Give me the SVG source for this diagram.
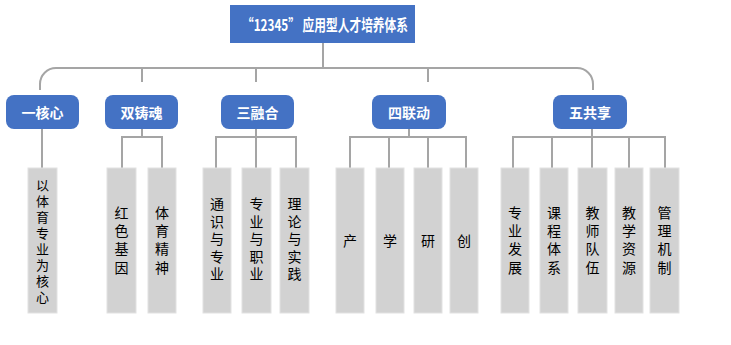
<svg xmlns="http://www.w3.org/2000/svg" width="731" height="345" viewBox="0 0 731 345">
<style>
.ln{fill:none;stroke:#a5a5a5;stroke-width:2}
.blue{fill:#4472c4}
.leaf{fill:#d2d2d2;stroke:#e2e2e2;stroke-width:1}
.t1{font-family:"Noto Sans CJK SC","Noto Sans",sans-serif;font-size:14px;font-weight:bold;fill:#ffffff;text-anchor:middle;dominant-baseline:central}
.tt{font-family:"Noto Sans CJK SC","Noto Sans",sans-serif;font-size:16px;font-weight:bold;fill:#ffffff;dominant-baseline:central}
.lt{font-family:"Noto Sans CJK SC",sans-serif;font-size:14px;fill:#000000;text-anchor:middle;writing-mode:vertical-rl}
.s4{letter-spacing:4.3px}
.s5{letter-spacing:3.5px}
.s8{font-size:13px;letter-spacing:3px}
.ch{font-family:"Noto Sans CJK SC",sans-serif;font-size:14px;fill:#000000;text-anchor:middle;dominant-baseline:central}
</style>
<rect width="731" height="345" fill="#ffffff"/>
<g id="connectors">
<path class="ln" d="M323,43 V68"/>
<path class="ln" d="M40,90 V84 A16,16 0 0 1 56,68 H577 A16,16 0 0 1 593,84 V90"/>
<path class="ln" d="M142,68 V82 M256,68 V82 M428,68 V82"/>
<path class="ln" d="M42,129 V168"/>
<path class="ln" d="M142,129 V137 M122,168 V137 H162 V168"/>
<path class="ln" d="M256,129 V168 M216,168 V137 H296 V168"/>
<path class="ln" d="M409,129 V137 M350,168 V137 H466 V168 M389,137 V168 M428,137 V168"/>
<path class="ln" d="M592,129 V168 M513,168 V137 H665 V168 M552,137 V168 M629,137 V168"/>
</g>
<g id="title">
<rect class="blue" x="230" y="5" width="185" height="38"/>
<text class="tt" x="242" y="24" textLength="166" lengthAdjust="spacingAndGlyphs">“12345” 应用型人才培养体系</text>
</g>
<g id="n1"><rect class="blue" x="6" y="95" width="73" height="34" rx="8"/><text class="t1" x="42.5" y="112">一核心</text></g>
<g id="n2"><rect class="blue" x="105" y="95" width="73" height="34" rx="8"/><text class="t1" x="141.5" y="112">双铸魂</text></g>
<g id="n3"><rect class="blue" x="221" y="95" width="73" height="34" rx="8"/><text class="t1" x="257.5" y="112">三融合</text></g>
<g id="n4"><rect class="blue" x="372" y="95" width="74" height="34" rx="8"/><text class="t1" x="409" y="112">四联动</text></g>
<g id="n5"><rect class="blue" x="553" y="95" width="74" height="34" rx="8"/><text class="t1" x="590" y="112">五共享</text></g>

<g id="l1"><rect class="leaf" x="28" y="168" width="29" height="145"/><text class="lt s8" x="42.5" y="242.5">以体育专业为核心</text></g>
<g id="l2"><rect class="leaf" x="107" y="168" width="29" height="145"/><text class="lt s4" x="121.5" y="242">红色基因</text></g>
<g id="l3"><rect class="leaf" x="148" y="168" width="28" height="145"/><text class="lt s4" x="162" y="242">体育精神</text></g>
<g id="l4"><rect class="leaf" x="203" y="168" width="28" height="145"/><text class="lt s5" x="217" y="240.5">通识与专业</text></g>
<g id="l5"><rect class="leaf" x="242" y="168" width="29" height="145"/><text class="lt s5" x="256.5" y="240.5">专业与职业</text></g>
<g id="l6"><rect class="leaf" x="280" y="168" width="29" height="145"/><text class="lt s5" x="294.5" y="240.5">理论与实践</text></g>
<g id="l7"><rect class="leaf" x="336" y="168" width="28" height="145"/><text class="ch" x="350" y="240">产</text></g>
<g id="l8"><rect class="leaf" x="376" y="168" width="28" height="145"/><text class="ch" x="390" y="240">学</text></g>
<g id="l9"><rect class="leaf" x="414" y="168" width="28" height="145"/><text class="ch" x="428" y="240">研</text></g>
<g id="l10"><rect class="leaf" x="450" y="168" width="28" height="145"/><text class="ch" x="464" y="240">创</text></g>
<g id="l11"><rect class="leaf" x="501" y="168" width="28" height="145"/><text class="lt s4" x="515" y="242">专业发展</text></g>
<g id="l12"><rect class="leaf" x="540" y="168" width="28" height="145"/><text class="lt s4" x="554" y="242">课程体系</text></g>
<g id="l13"><rect class="leaf" x="578" y="168" width="29" height="145"/><text class="lt s4" x="592.5" y="242">教师队伍</text></g>
<g id="l14"><rect class="leaf" x="615" y="168" width="28" height="145"/><text class="lt s4" x="629" y="242">教学资源</text></g>
<g id="l15"><rect class="leaf" x="650" y="168" width="29" height="145"/><text class="lt s4" x="664.5" y="242">管理机制</text></g>
</svg>
